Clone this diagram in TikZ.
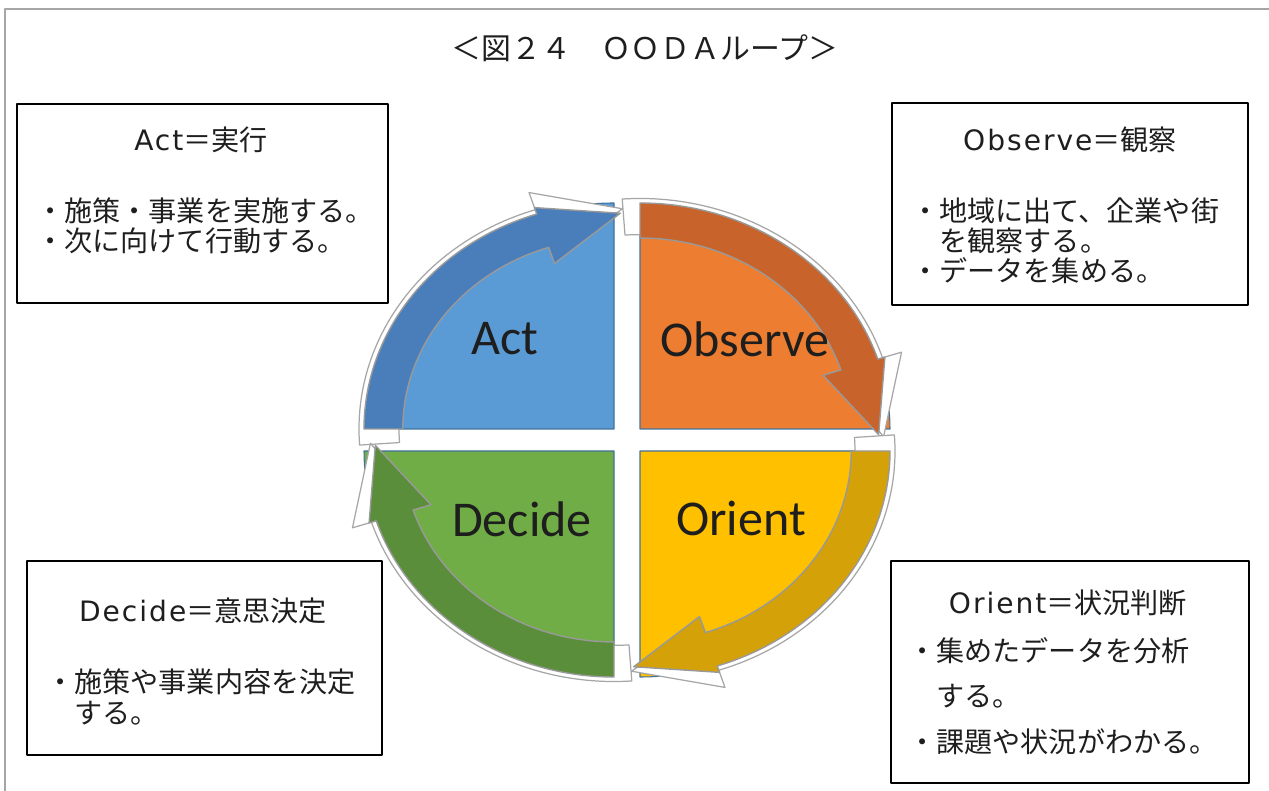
\documentclass[tikz,border=0pt]{standalone}
\usepackage{fontspec}
\newfontfamily\jpfont{Noto Sans CJK JP}
\newfontfamily\latinfont[LetterSpace=7]{DejaVu Sans}
\newfontfamily\quadfont{Carlito}
\definecolor{actblue}{HTML}{5B9BD5}
\definecolor{actdark}{HTML}{4A7EBB}
\definecolor{obsorange}{HTML}{ED7D31}
\definecolor{obsdark}{HTML}{C8632B}
\definecolor{origold}{HTML}{FFC000}
\definecolor{oridark}{HTML}{D4A108}
\definecolor{decgreen}{HTML}{70AD47}
\definecolor{decdark}{HTML}{5A8E3B}
\definecolor{rimblue}{HTML}{41719C}
\definecolor{framegray}{HTML}{A6A6A6}
\definecolor{inktext}{HTML}{1E1E1E}

\begin{document}
\begin{tikzpicture}[x=0.02cm,y=0.02cm,line cap=round,line join=round,
    quad/.style={draw=rimblue,line width=0.6pt},
    loopshadow/.style={fill=white,draw=black!35,line width=0.7pt},
    looparrow/.style={draw=black!40,line width=0.8pt},
    quadlabel/.style={font=\quadfont\fontsize{28.5}{34}\selectfont,text=inktext,inner sep=0pt},
    infobox/.style={draw=black,line width=1.3pt},
    titletext/.style={font=\jpfont\fontsize{17}{20}\selectfont,text=inktext,inner sep=0pt},
    boxhead/.style={font=\jpfont\fontsize{16}{19}\selectfont,text=inktext,inner sep=0pt,text height=14pt,text depth=2pt},
    boxline/.style={boxhead,anchor=west}]
\useasboundingbox (0,0) rectangle (1269,791);
% frame of the figure
\draw[framegray,line width=1.5pt,line cap=butt] (5,0) -- (5,782) -- (1269,782);
\node[titletext] (title) at (645,743) {＜図２４　ＯＯＤＡループ＞};

% Act
\begin{scope}[shift={(614,362)},xscale=250,yscale=226]
  \draw[quad,fill=actblue] (0,0) -- (90:1) arc[start angle=90,end angle=180,radius=1] -- cycle;
  \draw[loopshadow] (184:0.86) arc[start angle=184,end angle=108,radius=0.86] -- (108:0.80) -- (88:0.975) -- (108:1.10) -- (108:1.02) arc[start angle=108,end angle=184,radius=1.02] -- cycle;
  \draw[looparrow,fill=actdark] (180:1) arc[start angle=180,end angle=108,radius=1] -- (108:1.03) -- (88.5:0.955) -- (108:0.77) -- (108:0.845) arc[start angle=108,end angle=180,radius=0.845] -- cycle;
\end{scope}
% Observe
\begin{scope}[shift={(640,362)},xscale=250,yscale=226]
  \draw[quad,fill=obsorange] (0,0) -- (0:1) arc[start angle=0,end angle=90,radius=1] -- cycle;
  \draw[loopshadow] (94:0.86) arc[start angle=94,end angle=18,radius=0.86] -- (18:0.80) -- (-2:0.975) -- (18:1.10) -- (18:1.02) arc[start angle=18,end angle=94,radius=1.02] -- cycle;
  \draw[looparrow,fill=obsdark] (90:1) arc[start angle=90,end angle=18,radius=1] -- (18:1.03) -- (-1.5:0.955) -- (18:0.77) -- (18:0.845) arc[start angle=18,end angle=90,radius=0.845] -- cycle;
\end{scope}
% Orient
\begin{scope}[shift={(640,340)},xscale=250,yscale=226]
  \draw[quad,fill=origold] (0,0) -- (270:1) arc[start angle=270,end angle=360,radius=1] -- cycle;
  \draw[loopshadow] (4:0.86) arc[start angle=4,end angle=-72,radius=0.86] -- (-72:0.80) -- (-92:0.975) -- (-72:1.10) -- (-72:1.02) arc[start angle=-72,end angle=4,radius=1.02] -- cycle;
  \draw[looparrow,fill=oridark] (0:1) arc[start angle=0,end angle=-72,radius=1] -- (-72:1.03) -- (-91.5:0.955) -- (-72:0.77) -- (-72:0.845) arc[start angle=-72,end angle=0,radius=0.845] -- cycle;
\end{scope}
% Decide
\begin{scope}[shift={(614,340)},xscale=250,yscale=226]
  \draw[quad,fill=decgreen] (0,0) -- (180:1) arc[start angle=180,end angle=270,radius=1] -- cycle;
  \draw[loopshadow] (274:0.86) arc[start angle=274,end angle=198,radius=0.86] -- (198:0.80) -- (178:0.975) -- (198:1.10) -- (198:1.02) arc[start angle=198,end angle=274,radius=1.02] -- cycle;
  \draw[looparrow,fill=decdark] (270:1) arc[start angle=270,end angle=198,radius=1] -- (198:1.03) -- (178.5:0.955) -- (198:0.77) -- (198:0.845) arc[start angle=198,end angle=270,radius=0.845] -- cycle;
\end{scope}

\node[quadlabel] (actlabel) at (505,452) {Act};
\node[quadlabel] (obslabel) at (745,452) {Observe};
\node[quadlabel] (orilabel) at (741,273) {Orient};
\node[quadlabel] (declabel) at (522,272) {Decide};

% text boxes
\draw[infobox] (17,488) rectangle (388,687);
\node[boxhead] (acthead) at (201,651) {{\latinfont Act}＝実行};
\node[boxline] (act1) at (36,580) {・施策・事業を実施する。};
\node[boxline] (act2) at (36,550) {・次に向けて行動する。};

\draw[infobox] (892,486) rectangle (1248,688);
\node[boxhead] (obshead) at (1070,651) {{\latinfont Observe}＝観察};
\node[boxline] (obs1) at (911,580) {・地域に出て、企業や街};
\node[boxline] (obs2) at (911,550) {　を観察する。};
\node[boxline] (obs3) at (911,520) {・データを集める。};

\draw[infobox] (27,36) rectangle (382,230);
\node[boxhead] (dechead) at (203,180) {{\latinfont Decide}＝意思決定};
\node[boxline] (dec1) at (46,109) {・施策や事業内容を決定};
\node[boxline] (dec2) at (46,78) {　する。};

\draw[infobox] (891,8) rectangle (1249,230);
\node[boxhead] (orihead) at (1068,188) {{\latinfont Orient}＝状況判断};
\node[boxline] (ori1) at (908,140) {・集めたデータを分析};
\node[boxline] (ori2) at (908,95) {　する。};
\node[boxline] (ori3) at (908,49) {・課題や状況がわかる。};
\end{tikzpicture}
\end{document}
